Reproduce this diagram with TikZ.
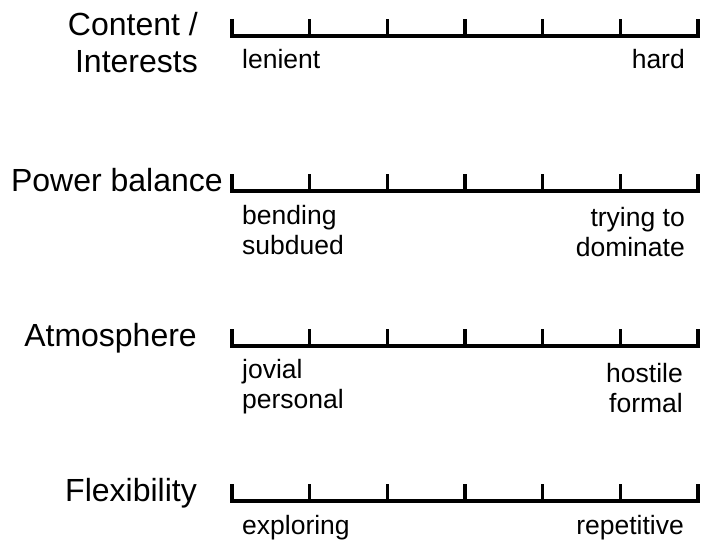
\documentclass[tikz,border=0pt]{standalone}
\usepackage{fontspec}
\setmainfont{Liberation Sans}
\usetikzlibrary{positioning}
\tikzset{
  dimlabel/.style={
    anchor=base east, inner sep=0pt, align=right,
    font=\fontsize{32}{36.5}\selectfont
  },
  polewest/.style={
    anchor=base west, inner sep=0pt, align=left,
    font=\fontsize{26.5}{30}\selectfont
  },
  poleeast/.style={
    anchor=base east, inner sep=0pt, align=right,
    font=\fontsize{26.5}{30}\selectfont
  },
  scaleline/.style={line width=3.5pt, line join=miter, draw=black},
  scaletick/.style={line width=3.5pt, draw=black}
}

\begin{document}
\begin{tikzpicture}[x=1pt, y=-1pt]
\useasboundingbox (0,0) rectangle (701,543);

% ── Rating scales ───────────────────────────────────────────
\foreach \row/\y in {content/36, power/191, atmos/346, flex/501}{
  \draw[scaleline] (232,\y-17) -- (232,\y) -- (698,\y) -- (698,\y-17);
  \foreach \i in {1,...,5}
    \draw[scaletick] ({232+77.67*\i},\y) -- ++(0,-17);
  \coordinate (\row) at (232,\y);
}

% ── Dimension names (base = last line) ──────────────────────
\node[dimlabel] (contentlbl) at (198,72)  {Content /\\Interests};
\node[dimlabel] (powerlbl)   at (223,191) {Power balance};
\node[dimlabel] (atmoslbl)   at (197,346) {Atmosphere};
\node[dimlabel] (flexlbl)    at (197,501) {Flexibility};

% ── Pole labels ─────────────────────────────────────────────
\node[polewest] (lenient)   at (242,69)  {lenient};
\node[poleeast] (hard)      at (685,69)  {hard};

\node[polewest] (bending)   at (242,254) {bending\\subdued};
\node[poleeast] (dominate)  at (685,256) {trying to\\dominate};

\node[polewest] (jovial)    at (242,408) {jovial\\personal};
\node[poleeast] (hostile)   at (683,412) {hostile\\formal};

\node[polewest] (exploring) at (242,534) {exploring};
\node[poleeast] (repet)     at (684,534) {repetitive};

\end{tikzpicture}
\end{document}
